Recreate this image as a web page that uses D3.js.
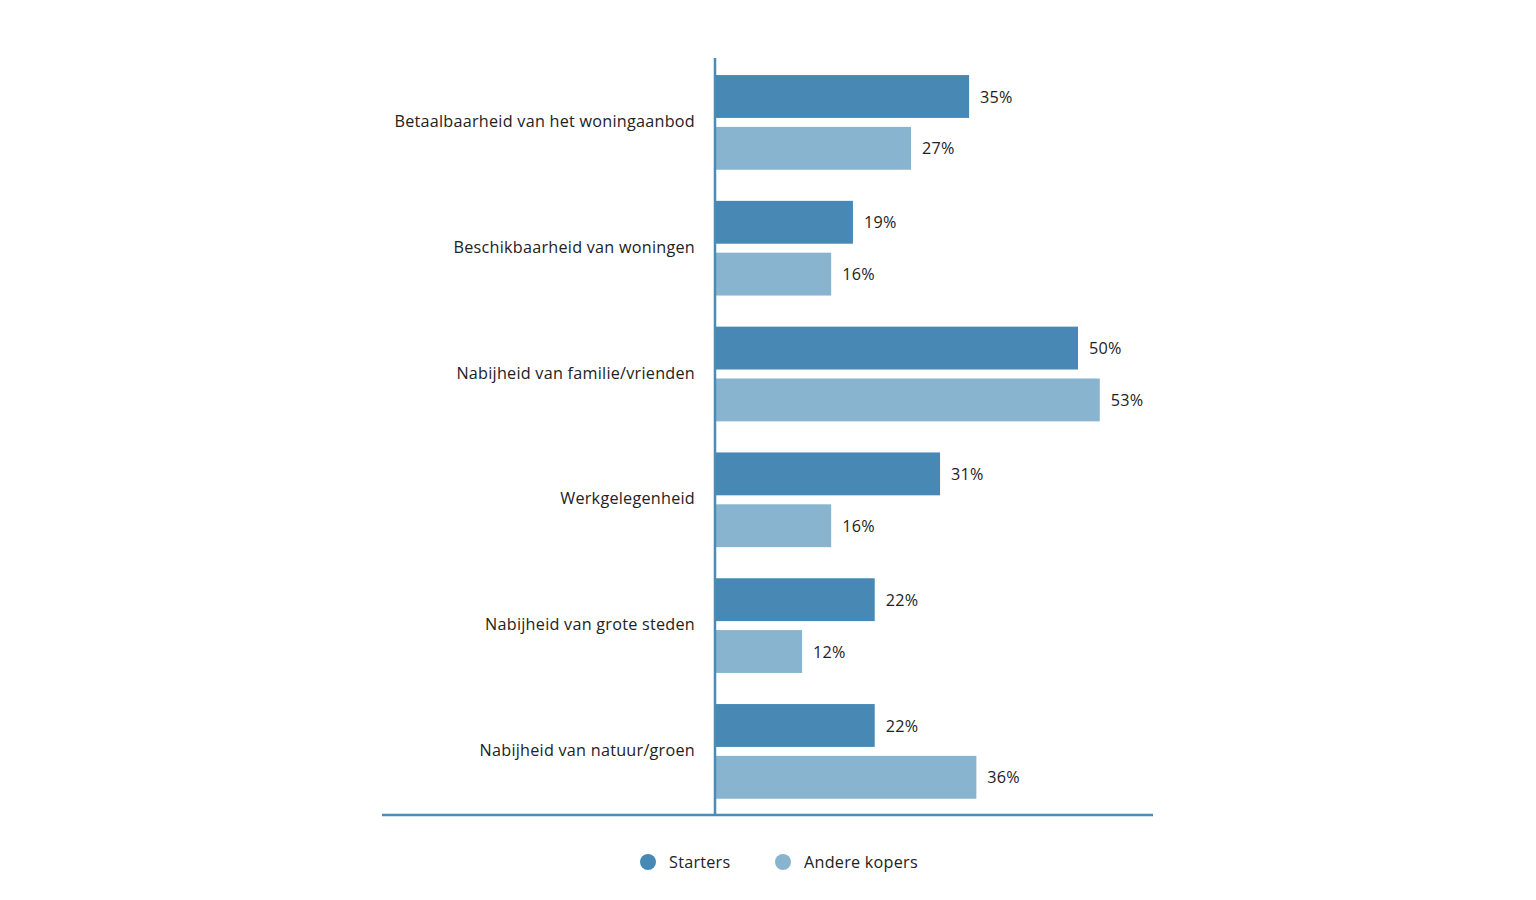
<!DOCTYPE html>
<html>
<head>
<meta charset="utf-8">
<script src="https://cdn.jsdelivr.net/npm/d3@7"></script>
<style>
  html, body { margin: 0; padding: 0; background: #ffffff; }
  svg { display: block; font-family: "Open Sans", Lato, sans-serif; }
</style>
</head>
<body>
<svg id="chart" width="1536" height="900"></svg>
<script>
const categories = [
  "Betaalbaarheid van het woningaanbod",
  "Beschikbaarheid van woningen",
  "Nabijheid van familie/vrienden",
  "Werkgelegenheid",
  "Nabijheid van grote steden",
  "Nabijheid van natuur/groen"
];
const seriesNames = ["Starters", "Andere kopers"];
const starters = [35, 19, 50, 31, 22, 22];
const andereKopers = [27, 16, 53, 16, 12, 36];
const seriesColors = ["#4789b4", "#88b4cf"];

const FONT = "'Open Sans', Lato, sans-serif";
const FS = 16.2;
const LS = 0.25;
const svg = d3.select("#chart");
const x0 = 715, plotTop = 58, plotBottom = 815;

const x = d3.scaleLinear().domain([0, 60]).range([x0, x0 + 7.26 * 60]);
const y = d3.scaleBand().domain(categories).range([plotTop, plotTop + 6 * 125.8]).padding(0);
const ySub = d3.scaleBand().domain(seriesNames).range([1.5, y.bandwidth() + 1.5])
  .paddingInner(0.173).paddingOuter(0.3);

const data = categories.map((c, i) => ({
  cat: c,
  vals: [
    { s: seriesNames[0], v: starters[i], color: seriesColors[0] },
    { s: seriesNames[1], v: andereKopers[i], color: seriesColors[1] }
  ]
}));

const groups = svg.selectAll("g.grp").data(data).enter().append("g")
  .attr("transform", d => `translate(0,${y(d.cat)})`);

groups.selectAll("rect").data(d => d.vals).enter().append("rect")
  .attr("x", x(0))
  .attr("y", d => ySub(d.s))
  .attr("width", d => x(d.v) - x(0))
  .attr("height", ySub.bandwidth())
  .attr("fill", d => d.color);

groups.selectAll("text.val").data(d => d.vals).enter().append("text")
  .attr("class", "val")
  .attr("x", d => x(d.v) + 11)
  .attr("y", d => ySub(d.s) + ySub.bandwidth() / 2 + 0.5)
  .attr("dy", "0.35em")
  .attr("font-size", FS)
  .attr("letter-spacing", LS)
  .attr("font-family", FONT)
  .attr("fill", "#222")
  .text(d => d.v + "%");

// category labels via axis
const yAxis = d3.axisLeft(y).tickSize(0).tickPadding(20);
const ga = svg.append("g").attr("transform", `translate(${x0},1)`).call(yAxis);
ga.select(".domain").remove();
ga.selectAll("text").attr("font-size", FS).attr("fill", "#222")
  .attr("letter-spacing", LS)
  .attr("font-family", FONT);

// axis lines
svg.append("line").attr("x1", x0).attr("x2", x0).attr("y1", plotTop).attr("y2", plotBottom)
  .attr("stroke", "#4a8cb8").attr("stroke-width", 2.5);
svg.append("line").attr("x1", 382).attr("x2", 1153).attr("y1", plotBottom).attr("y2", plotBottom)
  .attr("stroke", "#4a8cb8").attr("stroke-width", 2.5);

// legend
const legendItems = [
  { name: seriesNames[0], color: seriesColors[0], cx: 648 },
  { name: seriesNames[1], color: seriesColors[1], cx: 783 }
];
const lg = svg.append("g").selectAll("g").data(legendItems).enter().append("g");
lg.append("circle").attr("cx", d => d.cx).attr("cy", 862).attr("r", 8).attr("fill", d => d.color);
lg.append("text").attr("x", d => d.cx + 21).attr("y", 862.5).attr("dy", "0.35em")
  .attr("font-size", FS).attr("letter-spacing", LS).attr("font-family", FONT)
  .attr("fill", "#222").text(d => d.name);
</script>
</body>
</html>
